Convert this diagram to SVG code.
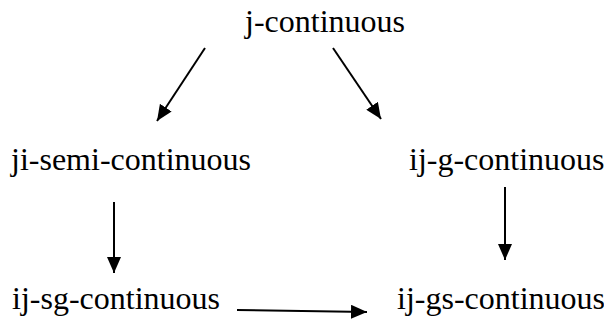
<svg xmlns="http://www.w3.org/2000/svg" width="604" height="320" viewBox="0 0 604 320">
<defs>
<style>
.t{font-family:"Liberation Serif","Times New Roman",serif;font-size:32px;fill:#000}
.c line{stroke:#000;stroke-width:2;marker-end:url(#ah)}
</style>
<marker id="ah" viewBox="0 0 16 14" refX="16" refY="7" markerWidth="16" markerHeight="14" markerUnits="userSpaceOnUse" orient="auto">
<path d="M0,0 L16,7 L0,14 z" fill="#000"/>
</marker>
</defs>
<rect width="604" height="320" fill="#fff"/>
<g id="n-j"><text class="t" x="245" y="32">j-continuous</text></g>
<g id="n-jisemi"><text class="t" x="11" y="170">ji-semi-continuous</text></g>
<g id="n-ijg"><text class="t" x="409" y="170">ij-g-continuous</text></g>
<g id="n-ijsg"><text class="t" x="12" y="309">ij-sg-continuous</text></g>
<g id="n-ijgs"><text class="t" x="397" y="309">ij-gs-continuous</text></g>
<g id="connectors" class="c">
<line x1="205" y1="48" x2="157" y2="121"/>
<line x1="333" y1="48" x2="381" y2="119"/>
<line x1="114" y1="202" x2="114" y2="273"/>
<line x1="505" y1="187" x2="505" y2="260"/>
<line x1="237" y1="310" x2="367" y2="312"/>
</g>
</svg>
